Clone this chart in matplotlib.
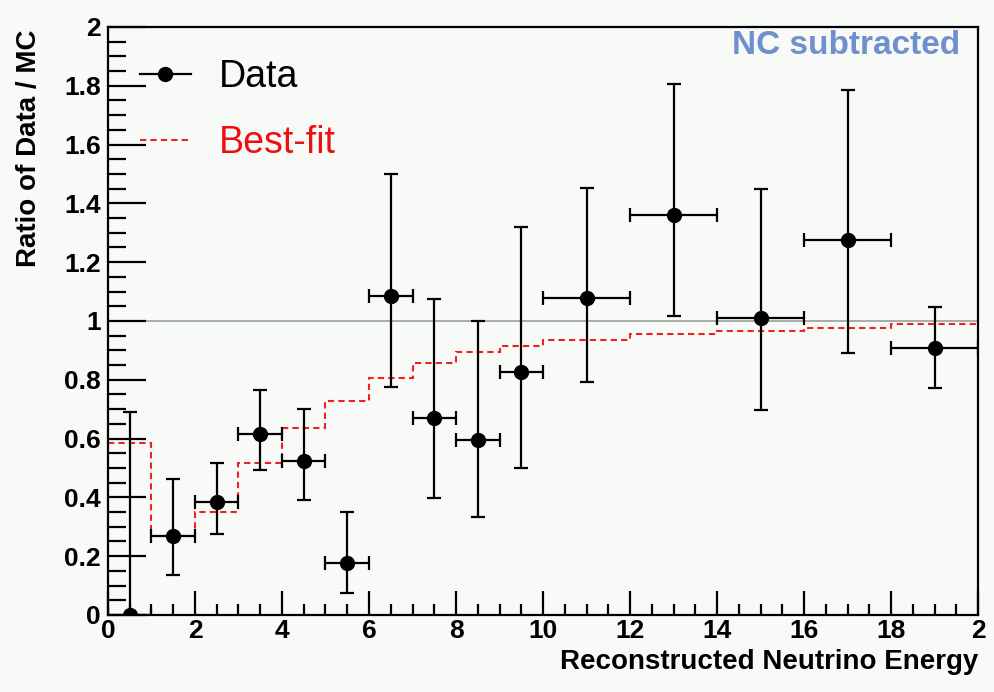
import numpy as np
import matplotlib.pyplot as plt
from matplotlib.lines import Line2D
from matplotlib.ticker import MultipleLocator

# data points: bin centres, half widths, ratio and asymmetric errors
x_center = [0.5, 1.5, 2.5, 3.5, 4.5, 5.5, 6.5, 7.5, 8.5, 9.5, 11, 13, 15, 17, 19]
x_half = [0.5, 0.5, 0.5, 0.5, 0.5, 0.5, 0.5, 0.5, 0.5, 0.5, 1, 1, 1, 1, 1]
ratio = [0.0, 0.27, 0.385, 0.615, 0.525, 0.177, 1.085, 0.67, 0.595, 0.826,
         1.078, 1.36, 1.01, 1.275, 0.908]
err_low = [0.0, 0.133, 0.108, 0.122, 0.135, 0.102, 0.309, 0.272, 0.262, 0.326,
           0.285, 0.343, 0.313, 0.384, 0.136]
err_high = [0.69, 0.193, 0.133, 0.15, 0.175, 0.173, 0.415, 0.405, 0.405, 0.494,
            0.374, 0.446, 0.439, 0.511, 0.14]

# best-fit histogram
fit_edges = [0, 1, 2, 3, 4, 5, 6, 7, 8, 9, 10, 12, 14, 16, 18, 20]
fit_vals = [0.585, 0.269, 0.35, 0.517, 0.636, 0.728, 0.807, 0.857, 0.893,
            0.914, 0.935, 0.957, 0.966, 0.975, 0.99]

plt.rcParams['font.family'] = ['Liberation Sans', 'DejaVu Sans']

bg = '#f8faf8'
red = '#ee2020'
fig = plt.figure(figsize=(9.95, 6.92), dpi=100, facecolor=bg)
ax = fig.add_axes([0.1085, 0.1113, 0.8745, 0.8497], facecolor=bg)

ax.axhline(1.0, color='#a0a8a0', lw=1.3, zorder=1)
ax.stairs(fit_vals, fit_edges, color=red, lw=1.5, ls=(0, (3, 2)),
          baseline=None, zorder=2)
ax.errorbar(x_center, ratio, xerr=x_half, yerr=[err_low, err_high],
            fmt='o', color='black', ms=10, elinewidth=1.6, capsize=5,
            capthick=1.6, zorder=3)

ax.set_xlim(0, 20)
ax.set_ylim(0, 2)
ax.xaxis.set_minor_locator(MultipleLocator(0.5))
ax.yaxis.set_minor_locator(MultipleLocator(0.05))
ax.set_xticks(np.arange(0, 21, 2))
ax.set_xticklabels(['0', '2', '4', '6', '8', '10', '12', '14', '16', '18', '2'])
ax.set_yticks(np.arange(0, 2.01, 0.2))
ax.set_yticklabels(['0', '0.2', '0.4', '0.6', '0.8', '1', '1.2', '1.4', '1.6', '1.8', '2'])
ax.tick_params(axis='both', which='both', direction='in', top=False, right=False,
               width=1.6, labelsize=19)
ax.tick_params(axis='y', which='major', length=27, pad=5)
ax.tick_params(axis='y', which='minor', length=13)
ax.tick_params(axis='x', which='major', length=17, pad=3)
ax.tick_params(axis='x', which='minor', length=8)
for lab in ax.get_xticklabels() + ax.get_yticklabels():
    lab.set_fontweight('bold')
for s in ax.spines.values():
    s.set_linewidth(1.6)

ax.set_ylabel('Ratio of Data / MC', fontsize=20, fontweight='bold')
ax.yaxis.set_label_coords(-0.076, 0.794)
ax.set_xlabel('Reconstructed Neutrino Energy', fontsize=20, fontweight='bold',
              loc='right', labelpad=4)

ax.text(0.979, 0.968, 'NC subtracted', transform=ax.transAxes, ha='right',
        va='center', fontsize=24, fontweight='bold', color='#6f8fcf')

handles = [Line2D([], [], color='black', lw=1.6, marker='o', ms=10),
           Line2D([], [], color=red, lw=1.5, ls=(0, (3, 2)))]
leg = ax.legend(handles, ['Data', 'Best-fit'], loc='upper left',
                bbox_to_anchor=(0.037, 0.946), frameon=False, fontsize=27,
                handlelength=1.35, labelspacing=0.82, handletextpad=0.75,
                borderpad=0, borderaxespad=0)
leg.get_texts()[1].set_color('#ee1010')

fig.savefig('out.png', dpi=100, facecolor=bg)
